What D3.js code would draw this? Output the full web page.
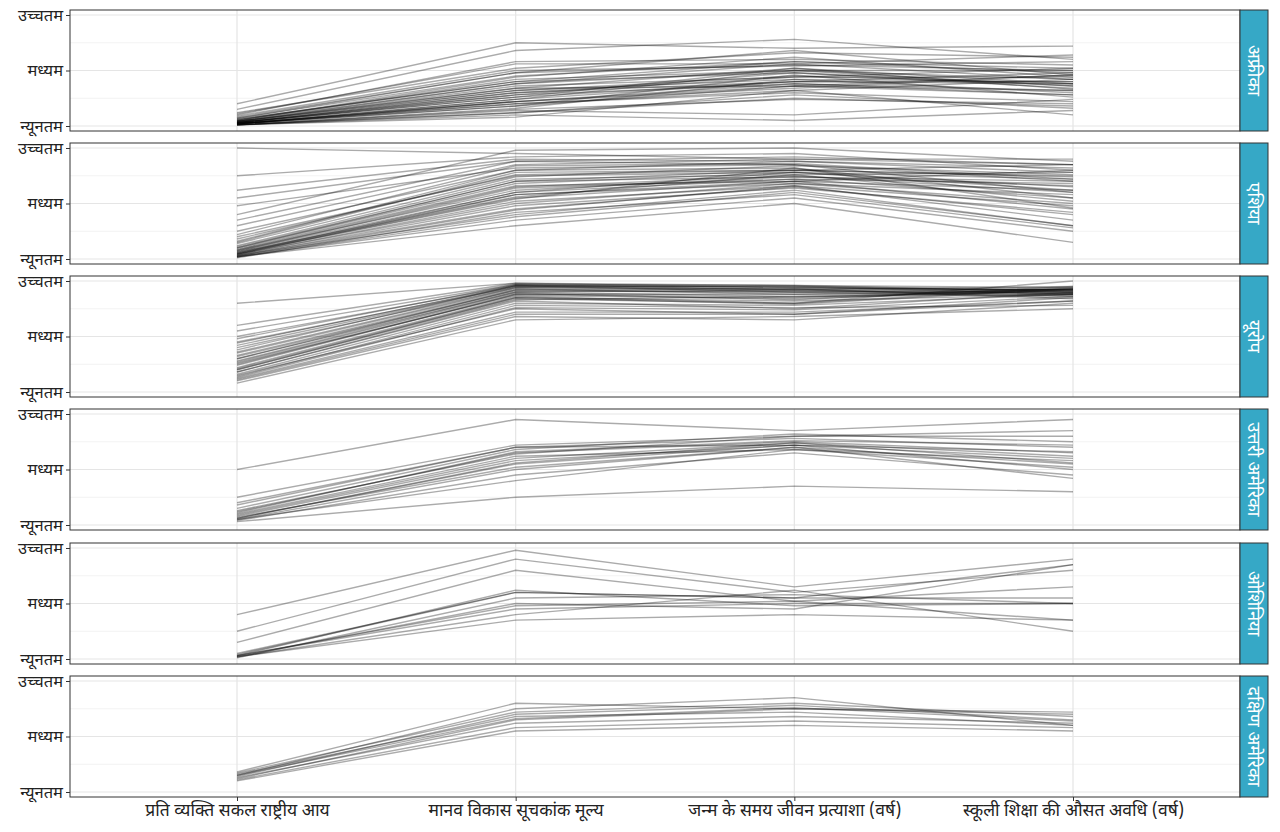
<!DOCTYPE html>
<html><head><meta charset="utf-8">
<script src="https://cdn.jsdelivr.net/npm/d3@7"></script>
<style>body{margin:0;background:#fff}</style></head>
<body><svg id="c" width="1280" height="832"></svg>
<script>
const axes = ["प्रति व्यक्ति सकल राष्ट्रीय आय","मानव विकास सूचकांक मूल्य","जन्म के समय जीवन प्रत्याशा (वर्ष)","स्कूली शिक्षा की औसत अवधि (वर्ष)"];
const yTickLabels = ["न्यूनतम","मध्यम","उच्चतम"];
const regions = ["अफ्रीका","एशिया","यूरोप","उत्तरी अमेरिका","ओशिनिया","दक्षिण अमेरिका"];
// normalized values [GNI, HDI, life expectancy, schooling]
const africa = [
[0.02,0.20,0.30,0.22],[0.03,0.28,0.38,0.32],[0.05,0.42,0.50,0.42],[0.01,0.12,0.25,0.18],[0.04,0.32,0.45,0.38],
[0.10,0.58,0.60,0.55],[0.15,0.68,0.78,0.60],[0.20,0.75,0.70,0.72],[0.08,0.48,0.55,0.50],[0.02,0.18,0.36,0.28],
[0.01,0.10,0.05,0.14],[0.03,0.26,0.40,0.40],[0.06,0.40,0.48,0.36],[0.02,0.22,0.34,0.46],[0.04,0.34,0.52,0.33],
[0.01,0.15,0.24,0.20],[0.07,0.45,0.58,0.52],[0.03,0.30,0.44,0.44],[0.02,0.22,0.38,0.28],[0.05,0.38,0.50,0.50],
[0.12,0.52,0.66,0.62],[0.02,0.24,0.40,0.38],[0.01,0.08,0.32,0.10],[0.04,0.34,0.36,0.46],[0.03,0.28,0.48,0.34],
[0.09,0.50,0.54,0.58],[0.02,0.20,0.32,0.42],[0.01,0.14,0.10,0.24],[0.06,0.40,0.58,0.48],[0.03,0.32,0.42,0.40],
[0.02,0.18,0.46,0.26],[0.04,0.36,0.44,0.52],[0.05,0.44,0.62,0.44],[0.01,0.12,0.28,0.16],[0.03,0.26,0.52,0.38],
[0.11,0.56,0.56,0.64],[0.02,0.22,0.36,0.32],[0.07,0.48,0.68,0.46],[0.03,0.30,0.40,0.48],[0.02,0.24,0.50,0.36],
[0.04,0.38,0.56,0.42],[0.01,0.16,0.42,0.30]];
const asia = [
[0.05,0.55,0.70,0.45],[0.08,0.65,0.75,0.60],[0.10,0.70,0.80,0.75],[0.03,0.40,0.62,0.30],[0.02,0.35,0.55,0.25],
[1.00,0.95,0.90,0.85],[0.75,0.92,0.95,0.80],[0.55,0.88,0.85,0.70],[0.62,0.90,0.88,0.82],[0.48,0.82,0.85,0.60],
[0.25,0.80,0.82,0.55],[0.30,0.85,0.90,0.90],[0.15,0.78,0.80,0.85],[0.20,0.75,0.78,0.72],[0.05,0.60,0.72,0.55],
[0.04,0.50,0.68,0.50],[0.06,0.58,0.70,0.62],[0.02,0.30,0.50,0.15],[0.03,0.45,0.65,0.40],[0.12,0.72,0.76,0.78],
[0.35,0.88,0.92,0.85],[0.40,0.98,1.00,0.88],[0.08,0.62,0.74,0.70],[0.10,0.68,0.78,0.65],[0.04,0.52,0.66,0.48],
[0.07,0.64,0.72,0.68],[0.18,0.76,0.80,0.74],[0.02,0.38,0.60,0.30],[0.06,0.56,0.76,0.52],[0.09,0.66,0.70,0.80],
[0.14,0.74,0.84,0.76],[0.03,0.48,0.64,0.42],[0.01,0.42,0.58,0.28],[0.22,0.84,0.86,0.72],[0.05,0.54,0.82,0.46],
[0.11,0.70,0.74,0.66],[0.04,0.58,0.68,0.58],[0.16,0.80,0.88,0.78],[0.02,0.44,0.66,0.35],[0.07,0.60,0.78,0.62]];
const europe = [
[0.20,0.85,0.82,0.88],[0.30,0.92,0.90,0.90],[0.45,0.95,0.95,0.92],[0.55,0.97,0.92,0.95],[0.80,0.98,0.96,0.90],
[0.15,0.75,0.70,0.85],[0.10,0.68,0.65,0.80],[0.25,0.88,0.85,0.93],[0.35,0.93,0.88,0.89],[0.40,0.94,0.93,0.92],
[0.18,0.82,0.75,0.90],[0.22,0.86,0.80,0.94],[0.28,0.90,0.86,0.88],[0.32,0.91,0.90,0.86],[0.12,0.72,0.72,0.82],
[0.38,0.96,0.94,0.91],[0.42,0.95,0.92,0.90],[0.48,0.97,0.96,0.94],[0.26,0.87,0.84,0.92],[0.16,0.80,0.78,0.88],
[0.14,0.78,0.76,0.78],[0.24,0.88,0.88,0.92],[0.30,0.90,0.92,0.87],[0.20,0.84,0.80,1.00],[0.50,0.96,0.90,0.93],
[0.36,0.94,0.91,0.89],[0.08,0.65,0.68,0.75],[0.18,0.83,0.86,0.91],[0.44,0.96,0.95,0.88],[0.27,0.89,0.83,0.95],
[0.33,0.92,0.93,0.84],[0.13,0.76,0.74,0.86],[0.60,0.98,0.94,0.92],[0.21,0.85,0.79,0.93],[0.11,0.70,0.70,0.82]];
const namerica = [
[0.05,0.50,0.70,0.55],[0.08,0.58,0.72,0.60],[0.12,0.65,0.75,0.65],[0.20,0.70,0.78,0.70],[0.50,0.95,0.85,0.95],
[0.25,0.72,0.80,0.80],[0.03,0.25,0.35,0.30],[0.06,0.55,0.72,0.50],[0.10,0.62,0.68,0.58],[0.15,0.68,0.82,0.75],
[0.04,0.45,0.65,0.45],[0.09,0.60,0.74,0.62],[0.07,0.52,0.70,0.42],[0.11,0.66,0.76,0.72],[0.18,0.70,0.72,0.66],
[0.05,0.40,0.68,0.52],[0.13,0.64,0.80,0.85],[0.06,0.56,0.74,0.56]];
const oceania = [
[0.05,0.60,0.55,0.55],[0.40,0.98,0.65,0.90],[0.25,0.90,0.60,0.80],[0.02,0.35,0.40,0.35],[0.03,0.45,0.50,0.50],
[0.02,0.50,0.45,0.85],[0.03,0.62,0.48,0.50],[0.15,0.80,0.52,0.65],[0.02,0.40,0.62,0.25],[0.04,0.60,0.55,0.85],
[0.01,0.55,0.58,0.50],[0.03,0.48,0.52,0.35]];
const samerica = [
[0.12,0.65,0.75,0.70],[0.15,0.75,0.85,0.60],[0.18,0.80,0.75,0.72],[0.10,0.55,0.60,0.55],[0.14,0.70,0.78,0.65],
[0.16,0.68,0.72,0.60],[0.13,0.62,0.68,0.62],[0.17,0.72,0.80,0.68],[0.11,0.58,0.64,0.58],[0.15,0.66,0.76,0.64]];
const regionData = [africa, asia, europe, namerica, oceania, samerica];

const svg = d3.select("#c");
const font = "'Noto Sans Devanagari','Noto Serif Devanagari','Noto Sans','Lohit Devanagari',sans-serif";
const left = 70, right = 1240, stripW = 28;
const panelTops = [10,143,276,409,543,676], ph = 121;
const x = d3.scalePoint().domain(axes).range([237,1073]);
regions.forEach((r,i)=>{
  const t = panelTops[i];
  const y = d3.scaleLinear().domain([0,1]).range([t+ph-5,t+5]);
  const g = svg.append("g");
  g.append("rect").attr("x",left).attr("y",t).attr("width",right-left).attr("height",ph).attr("fill","#fff");
  [0.25,0.75].forEach(v=>g.append("line").attr("x1",left).attr("x2",right).attr("y1",y(v)).attr("y2",y(v)).attr("stroke","#f0f0f0").attr("stroke-width",0.8));
  [0,0.5,1].forEach(v=>g.append("line").attr("x1",left).attr("x2",right).attr("y1",y(v)).attr("y2",y(v)).attr("stroke","#e5e5e5").attr("stroke-width",1.2));
  axes.forEach(a=>g.append("line").attr("x1",x(a)).attr("x2",x(a)).attr("y1",t).attr("y2",t+ph).attr("stroke","#e5e5e5").attr("stroke-width",1.2));
  const line = d3.line().x((d,k)=>x(axes[k])).y(d=>y(d));
  g.selectAll("path.l").data(regionData[i]).join("path").attr("d",line).attr("fill","none")
    .attr("stroke","#000").attr("stroke-opacity",0.33).attr("stroke-width",1.4);
  g.append("rect").attr("x",left).attr("y",t).attr("width",right-left).attr("height",ph).attr("fill","none").attr("stroke","#333").attr("stroke-width",1);
  const ya = d3.axisLeft(d3.scaleLinear().domain([0,1]).range(y.range())).tickValues([0,0.5,1]).tickSize(4).tickFormat((d,k)=>yTickLabels[k]);
  const ag = g.append("g").attr("transform",`translate(${left},0)`).call(ya);
  ag.select(".domain").remove();
  ag.selectAll("line").attr("stroke","#333");
  ag.selectAll("text").attr("font-family",font).attr("font-size",16.5).attr("fill","#222");
  g.append("rect").attr("x",right).attr("y",t).attr("width",stripW).attr("height",ph).attr("fill","#36A8C6").attr("stroke","#333");
  g.append("text").attr("transform",`translate(${right+stripW/2},${t+ph/2}) rotate(90)`).attr("text-anchor","middle").attr("dy","0.35em")
    .attr("font-family",font).attr("font-size",18).attr("fill","#fff").text(r);
});
const xa = d3.axisBottom(x).tickSize(4);
const xg = svg.append("g").attr("transform",`translate(0,${panelTops[5]+ph})`).call(xa);
xg.select(".domain").remove();
xg.selectAll("line").attr("stroke","#333");
xg.selectAll("text").attr("font-family",font).attr("font-size",17.5).attr("fill","#222");
</script></body></html>
